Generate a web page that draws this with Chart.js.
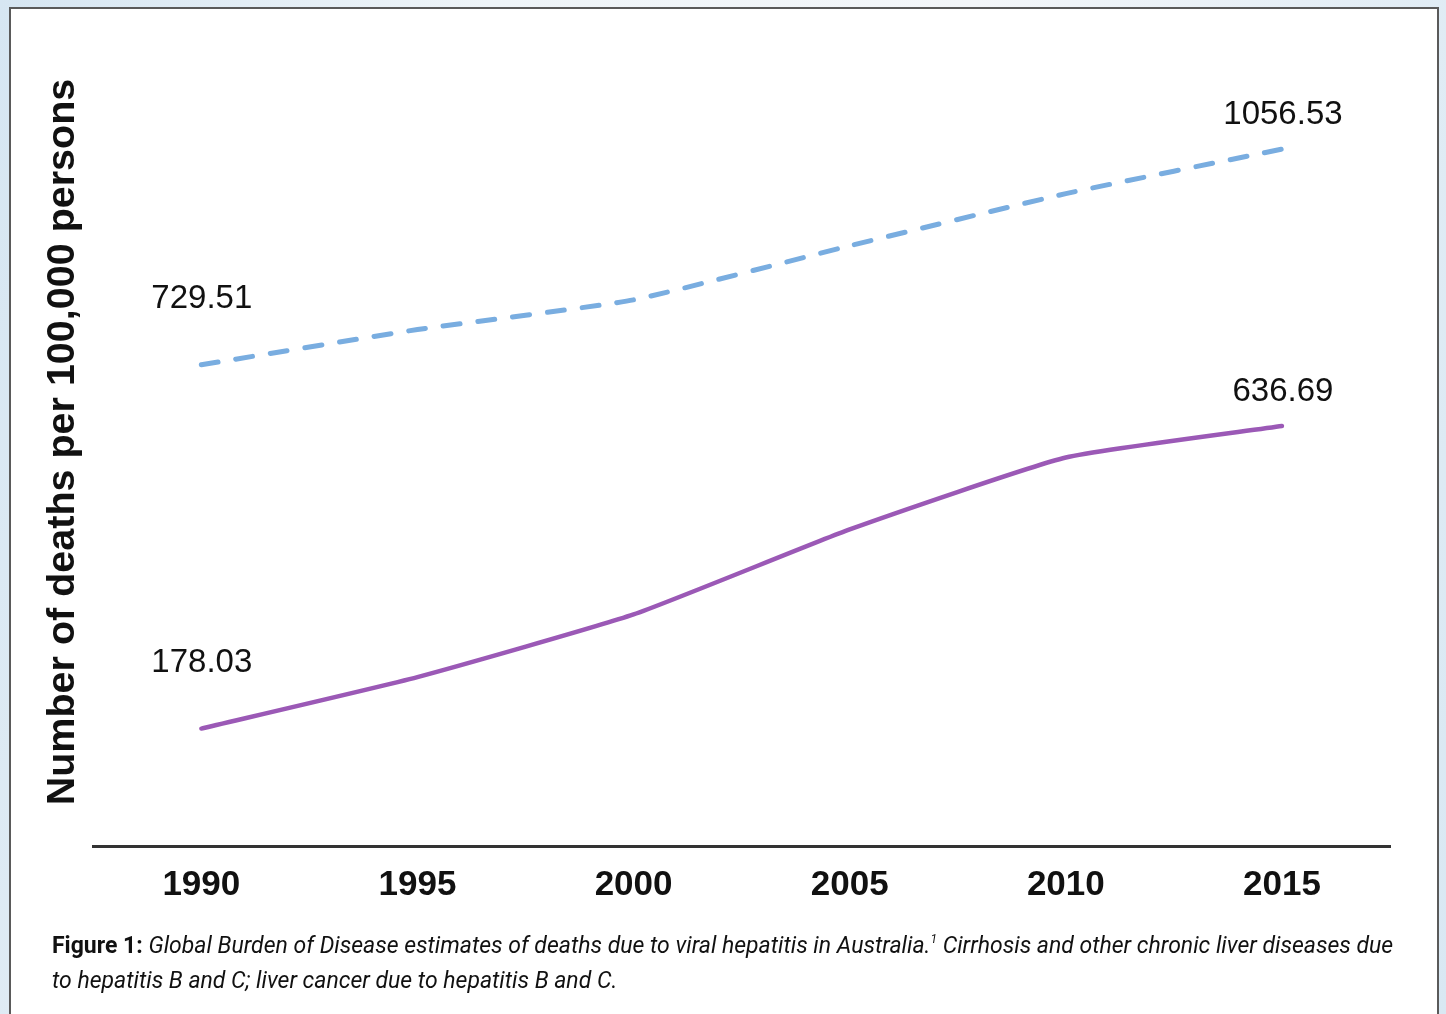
<!DOCTYPE html>
<html>
<head>
<meta charset="utf-8">
<script src="https://cdn.jsdelivr.net/npm/chart.js@4"></script>
<style>
  html, body { margin: 0; padding: 0; }
  body {
    width: 1446px; height: 1014px; overflow: hidden; position: relative;
    background: linear-gradient(100deg, #d6e6f2 0%, #eef4f8 30%, #f3f6f9 60%, #d9e8f3 100%);
    font-family: Roboto, "Liberation Sans", sans-serif;
  }
  #card {
    position: absolute; left: 9px; top: 7px; width: 1430px; height: 1020px;
    background: #fff; border: 2px solid #5a5a5a; box-sizing: border-box;
  }
  #chartWrap { position: absolute; left: 0; top: 0; width: 1446px; height: 932px; }
  #caption {
    position: absolute; left: 52px; top: 928px; font-size: 23px; line-height: 35px;
    color: #111; white-space: nowrap;
  }
  #caption b { font-weight: 700; font-style: normal; }
  #caption i { font-style: italic; }
  #caption sup { font-size: 12px; line-height: 0; vertical-align: 10px; }
</style>
</head>
<body>
<div id="card"></div>
<div id="chartWrap"><canvas id="hepChart" width="1446" height="932"></canvas></div>
<div id="caption">
  <b>Figure 1:</b> <i>Global Burden of Disease estimates of deaths due to viral hepatitis in Australia.<sup>1</sup> Cirrhosis and other chronic liver diseases due</i><br>
  <i>to hepatitis B and C; liver cancer due to hepatitis B and C.</i>
</div>
<script>
// values (deaths per 100,000 persons)
const years = ['1990', '1995', '2000', '2005', '2010', '2015'];
const cirrhosisDeaths = [729.51, 783, 828, 910, 989, 1056.53];
const liverCancerDeaths = [178.03, 256, 351, 480, 589, 636.69];
const yAxisTitle = 'Number of deaths per 100,000 persons';

// only the end points carry a value label
const endLabels = {
    id: 'endLabels',
    afterDatasetsDraw: function (chart) {
        const ctx = chart.ctx;
        ctx.save();
        ctx.font = '33px "Liberation Sans", Arial, sans-serif';
        ctx.fillStyle = '#111';
        ctx.textBaseline = 'middle';
        chart.data.datasets.forEach(function (ds, i) {
            const pts = chart.getDatasetMeta(i).data;
            const first = pts[0], last = pts[pts.length - 1];
            ctx.textAlign = 'left';
            ctx.fillText(ds.data[0].toFixed(2), first.x - 50, first.y - 66);
            ctx.textAlign = 'center';
            ctx.fillText(ds.data[ds.data.length - 1].toFixed(2), last.x + 1, last.y - 34);
        });
        ctx.restore();
    }
};

new Chart(document.getElementById('hepChart'), {
    type: 'line',
    data: {
        labels: years,
        datasets: [
            {
                label: 'Cirrhosis and other chronic liver diseases',
                data: cirrhosisDeaths,
                borderColor: '#79ade0',
                borderWidth: 5,
                borderDash: [17, 18],
                borderCapStyle: 'round',
                pointRadius: 0,
                tension: 0.15,
                fill: false
            },
            {
                label: 'Liver cancer',
                data: liverCancerDeaths,
                borderColor: '#9b59b6',
                borderWidth: 4.5,
                borderCapStyle: 'round',
                pointRadius: 0,
                tension: 0.15,
                fill: false
            }
        ]
    },
    options: {
        responsive: false,
        animation: false,
        devicePixelRatio: 1,
        layout: { padding: { left: 42, right: 56, top: 38, bottom: 8 } },
        plugins: { legend: { display: false }, tooltip: { enabled: false } },
        scales: {
            x: {
                offset: true,
                grid: { display: false, drawTicks: false },
                border: { display: true, color: '#333', width: 3 },
                ticks: {
                    color: '#111',
                    padding: 18,
                    font: { family: '"Liberation Sans", Arial, sans-serif', size: 35, weight: 'bold' }
                }
            },
            y: {
                min: 0,
                max: 1225,
                grid: { display: false, drawTicks: false },
                border: { display: false },
                ticks: { display: false },
                title: {
                    display: true,
                    text: yAxisTitle,
                    color: '#111',
                    padding: { top: 0, bottom: 9 },
                    font: { family: '"Liberation Sans", Arial, sans-serif', size: 39.5, weight: 'bold', lineHeight: 1.07 }
                }
            }
        }
    },
    plugins: [endLabels]
});
</script>
</body>
</html>
